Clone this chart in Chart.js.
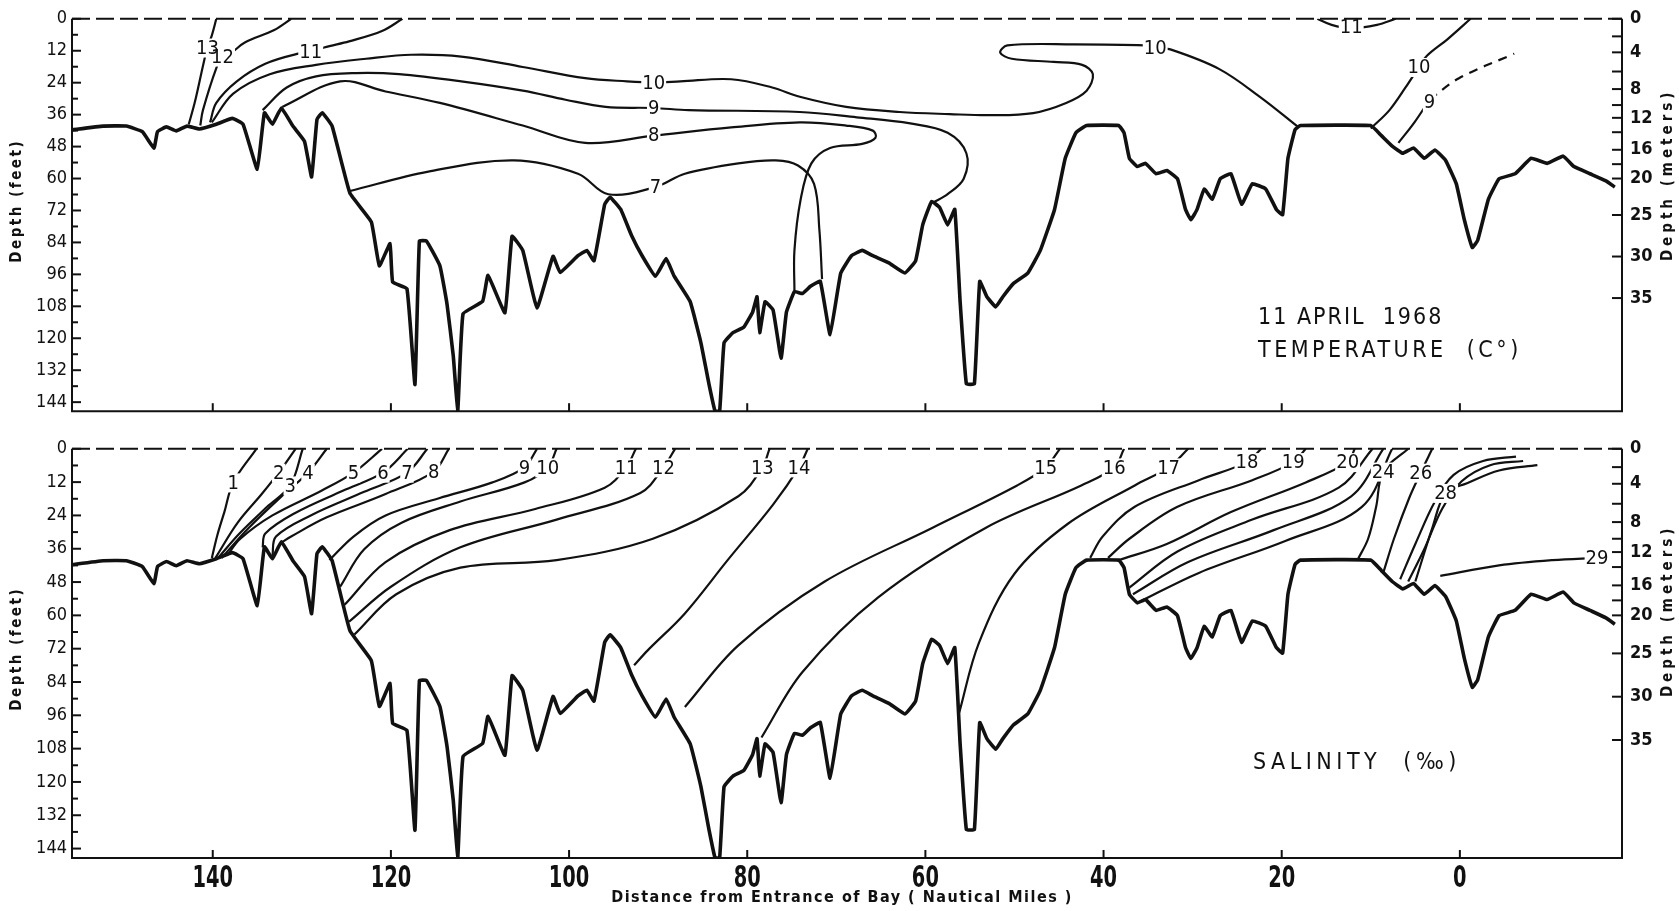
<!DOCTYPE html>
<html>
<head>
<meta charset="utf-8">
<script src="https://cdn.jsdelivr.net/npm/chart.js@4.4.0/dist/chart.umd.min.js"></script>
<style>
  body { margin: 0; background: #fff; }
  #page { position: relative; width: 1679px; height: 911px; }
  canvas { position: absolute; left: 0; }
</style>
</head>
<body>
<div id="page">
  <canvas id="tempChart" width="1679" height="430" style="top:0"></canvas>
  <canvas id="saltChart" width="1679" height="481" style="top:430px"></canvas>
</div>
<script>
// axes
const distTicks = [140, 120, 100, 80, 60, 40, 20, 0];
const feetTicks = [0, 6, 12, 18, 24, 30, 36, 42, 48, 54, 60, 66, 72, 78, 84, 90, 96, 102, 108, 114, 120, 126, 132, 138, 144];
const feetLabels = [0, 12, 24, 36, 48, 60, 72, 84, 96, 108, 120, 132, 144];
// right hand scale: meters, placed where the original drawing puts them (in feet)
const meterTickFeet = [0, 6.6, 12.6, 19.8, 26.4, 32.4, 37.2, 42.6, 49.2, 54.6, 60, 73.7, 89.3, 104.9];
const meterTickText = ['0', '', '4', '', '8', '', '12', '', '16', '', '20', '25', '30', '35'];

// bottom profile [nautical miles, feet]
const bottomProfile = [
  [155.8,41.7],[152.3,40.3],[149.7,40.3],[147.9,42.4],[146.6,48.6],[146.2,42.4],[145.2,40.6],[144.1,42.1],
  [142.9,40.3],[141.5,41.4],[139.6,39.6],[137.8,37.4],[136.6,39.6],[135,56.5],[134.2,35.3],[133.3,39.6],
  [132.3,33.5],[131,40.3],[129.7,46],[128.9,59.4],[128.3,37.8],[127.7,35.3],[126.6,40.3],[124.6,65.5],
  [122.2,76.3],[121.3,92.8],[120.1,84.5],[119.8,98.9],[118.2,101.4],[117.3,137.4],[116.8,83.5],[116,83.5],
  [114.5,92.8],[113.7,107.2],[113,126.6],[112.5,147.5],[111.9,110.8],[109.7,106.1],[109.1,96.4],[107.2,110.4],
  [106.4,81.7],[105.2,87],[103.6,108.6],[101.8,89.2],[101,95.3],[99,89],[98,87],[97.2,90.9],[96,69.7],
  [95.4,67],[94.2,71.6],[93,81.3],[91.8,89],[90.3,96.7],[89.1,90.1],[88.2,96.7],[86.4,106.3],[85.2,121.7],
  [84.3,137.1],[83.6,147.5],[83.1,147.5],[82.6,121.7],[81.6,117.9],[80.4,115.9],[79.4,110.2],[78.9,104.4],
  [78.6,117.9],[78,106.3],[77.1,109.4],[76.2,127.5],[75.6,110.2],[74.7,102.5],[73.8,103.2],[72.9,100.5],
  [71.8,98.6],[70.7,118.6],[69.5,95.5],[68.3,89],[67.1,87],[65.9,89],[64.1,91.7],[62.3,95.5],[61.1,90.9],
  [60.3,77.4],[59.3,68.6],[58.4,70.9],[57.5,77.4],[56.7,71.6],[56.1,106.3],[55.4,137.1],[54.5,137.1],
  [53.9,98.6],[53.1,104.4],[52.1,108.2],[51.3,104.4],[50.1,99.4],[48.5,95.5],[47.1,87],[45.5,71.6],
  [44.3,52.4],[43.1,42.8],[41.9,40.1],[38.3,40.1],[37.7,42.8],[37.1,52.4],[36.2,55.5],[35.3,54.3],
  [34.1,58.2],[32.9,57],[31.7,60.1],[30.8,71.6],[30.2,75.5],[29.5,71.6],[28.7,63.9],[27.8,67.8],
  [26.9,60.1],[25.7,58.2],[24.5,69.7],[23.3,62],[21.8,63.9],[20.6,71.6],[19.9,73.6],[19.3,52.4],
  [18.5,41.6],[17.9,40.1],[10,40.1],[8.8,43.9],[7.6,47.8],[6.4,50.5],[5.2,48.5],[4,52.4],[2.8,49.3],
  [1.6,53.2],[0.4,62],[-0.5,75.5],[-1.4,85.9],[-2,83.2],[-3.2,67.8],[-4.4,60.1],[-6.2,58.2],[-8,52.4],
  [-9.8,54.3],[-11.6,51.6],[-12.8,55.5],[-14.6,58.2],[-16.4,60.9],[-17.4,63.2]
];

// isotherms, 11 April 1968 [nautical miles, feet]
const iso13 = [[139.6,0],[140.1,6.2],[140.6,10.8],[141.1,17.7],[142,31.2],[142.7,39.7]];
const iso12 = [[131.2,0],[133.1,4.2],[136.4,8.9],[137.9,12.7],[138.9,14.2],[139.6,18.5],[141.1,34.3],[141.4,40.1]];
const iso11 = [[118.7,0],[121,4.6],[124.7,8.5],[127.5,10.8],[129,12.7],[130.4,13.1],[134.1,16.9],[137.3,23.5],[139.6,31.6],[140.3,38.9]];
const iso10 = [[140.1,38.9],[137.7,28.1],[133.6,20.8],[128.4,17.3],[122.8,15],[117.7,13.5],[112.1,14.2],[105.2,18.1],
  [98.2,22.3],[93.5,23.5],[90.5,23.9],[87.5,23.5],[81.8,22.7],[77.2,25.8],[74.1,29.3],[68.9,33.1],[62.9,35],
  [57.3,35.8],[52.7,36.2],[47.9,35.4],[44.2,31.6],[41.9,27],[41.2,20.8],[42.4,17.3],[45.6,16.2],[50.3,15],
  [51.6,12.7],[50.8,10],[43.3,9.6],[35.4,10],[34.2,10.8],[32.5,11.5],[27,18.9],[22.3,29.7],[18.1,40.8]];
const iso10east = [[10,41.2],[7.9,34.3],[6.1,25.8],[4.6,18.1],[3.7,13.9],[1.4,7.7],[-1.2,0]];
const iso11east = [[16,0],[14.4,2.3],[12.3,3.5],[9.3,2.3],[7.2,0]];
const iso9 = [[134.4,34.3],[131.7,25.8],[128.4,21.6],[123.9,20.4],[119.1,20.8],[112.1,23.5],[105.2,27],[100.4,30.4],
  [95.9,33.1],[90.5,33.5],[86.6,34.3],[74.1,35],[67.7,37],[61.7,39.3],[57.5,42.8],[55.4,50.5],[55.7,60.1],
  [57.5,65.9],[59.1,69]];
const iso9east = [[6.9,46.6],[5.1,38.9],[3.4,30.4]];
const iso9eastDashed = [[3.4,30.4],[0.1,22.3],[-6.1,13.1]];
const iso8 = [[132.2,33.1],[125.7,23.5],[120.6,27.3],[114.5,31.6],[105.2,40.1],[98.2,46.6],[90.5,43.9],[81.8,40.8],
  [74.1,38.9],[68.9,40.1],[65.9,42],[65.6,44.7],[67.1,47],[70.7,48.5],[72.8,54.3],[74,67.8],[74.7,87],[74.7,102.5]];
const iso7 = [[124.6,64.7],[115.8,57.4],[106.2,53.2],[99,58.2],[95.6,65.9],[90.3,63.2],[87,58.2],[81,54.3],
  [76.8,53.2],[74.3,55.1],[72.5,62],[71.9,79.3],[71.6,97.8]];

const tempSolid = [iso13, iso12, iso11, iso10, iso10east, iso11east, iso9, iso9east, iso8, iso7];
const tempDashed = [iso9eastDashed];
const tempLabelText = ['13', '12', '11', '10', '9', '8', '7', '10', '11', '10', '9'];
const tempLabelAt = [[140.6,10.8],[138.9,14.2],[129,12.3],[90.5,23.9],[90.5,33.5],[90.5,43.7],[90.3,63.2],
  [34.2,10.8],[12.2,3.1],[4.6,18.1],[3.4,31.2]];

// isohalines (per mille) [nautical miles, feet]
const sal1 = [[135.1,0],[137.7,12.1],[138.7,22.8],[139.5,31.3],[140.1,39.3]];
const sal2 = [[130.7,0],[132.6,8.6],[134.5,16.3],[137.2,26.6],[139.7,39.3]];
const sal3 = [[129.9,0],[131.3,13.2],[133.9,20.9],[137,30.5],[139.4,39.3]];
const sal4 = [[127.2,0],[129.3,8.6],[132,16.3],[136,28.6],[139,39.3]];
const sal5 = [[121,0],[124.2,8.6],[127.8,15.1],[133.3,24],[136.9,32.4],[138.4,38.5]];
const sal6 = [[118.1,0],[120.9,8.6],[125.4,15.1],[130.8,23.2],[134.1,30.5],[134.4,35.5]];
const sal7 = [[115.9,0],[118.2,8.6],[123,15.5],[129,24],[132.9,31.6],[133.3,38.5]];
const sal8 = [[113.5,0],[115.2,8.2],[120.6,16.3],[127.2,24.7],[131.2,31.6],[132.4,34]];
const sal9 = [[103.6,0],[105,6.7],[108.6,12.1],[114.6,17.8],[120.6,24],[124.2,31.6],[126.9,40.1]];
const sal10 = [[101.4,0],[102.4,6.7],[105,12.1],[112.2,19],[118.8,26.6],[123,36.2],[125.7,49.7]];
const sal11 = [[92.5,0],[93.6,6.7],[96,14],[103.8,21.7],[113.4,29.3],[120.6,40.8],[125.2,56.2]];
const sal12 = [[88.1,0],[89.4,6.7],[92,15.9],[101.4,25.5],[112.2,35.5],[120,49.7],[124.7,62.3]];
const sal13 = [[77.5,0],[78.3,6.7],[81,17.1],[90.6,32.4],[101.4,40.1],[112.2,42.8],[119.4,52.4],[124.1,66.9]];
const sal14 = [[73.2,0],[74.2,6.7],[77.1,20.1],[82.2,40.1],[87,59.3],[91.2,72.7],[92.7,78]];
const sal15 = [[44.9,0],[46.5,6.7],[49.7,13.2],[59.3,28.6],[71.3,47.8],[81,70.8],[87,93]];
const sal16 = [[37.7,0],[38.8,6.7],[42.5,13.2],[53.3,28.6],[65.3,53.5],[73.8,80.4],[78.4,104]];
const sal17 = [[30.5,0],[32.7,6.7],[36.5,13.2],[44,27],[50,45],[54,70],[56.2,95]];
const sal18 = [[22.3,0],[23.9,4.8],[29.3,11.3],[36.5,20.9],[40.1,31.6],[41.5,39.3]];
const sal19 = [[17.3,0],[18.7,4.8],[23.3,11.3],[31.7,20.9],[37.1,32.4],[39.5,39.3]];
const sal20 = [[11.8,0],[12.6,4.8],[17.3,12.1],[25.7,22.8],[32.9,34.3],[38.3,40.1]];
const sal21 = [[9.8,0],[13.6,14],[23.3,25.5],[31.7,37],[37.1,50]];
const sal22 = [[8.6,0],[12.2,17.1],[20.9,29.3],[30.5,40.8],[36.7,52.4]];
const sal23 = [[7.6,0],[11,20.9],[19.6,33.2],[29.3,44.7],[36.2,55.5]];
const sal24 = [[5.8,0],[8.6,8.2],[9.4,20.9],[10.3,32.4],[11.5,40.1]];
const sal26 = [[3.1,0],[4.4,8.6],[5.7,17.8],[7.4,32.4],[8.6,44.7]];
const sal27 = [[-6.3,2.8],[-2.6,4.4],[0.7,9.4],[2.8,19],[5,34.3],[6.7,47]];
const sal27b = [[-7.1,4.4],[-3.4,5.9],[-0.2,11.7],[2,21.7],[4,36.2],[5.8,47.8]];
const sal28 = [[-8.7,5.9],[-4.4,7.8],[-0.8,12.4],[1.6,15.9],[3.1,28.6],[5,47.8]];
const sal29 = [[2.2,45.8],[-4.4,42],[-10.4,40.1],[-15.4,39.3]];

const saltSolid = [sal1, sal2, sal3, sal4, sal5, sal6, sal7, sal8, sal9, sal10, sal11, sal12, sal13, sal14,
  sal15, sal16, sal17, sal18, sal19, sal20, sal21, sal22, sal23, sal24, sal26, sal27, sal27b, sal28, sal29];
const saltLabelText = ['1','2','3','4','5','6','7','8','9','10','11','12','13','14','15','16','17','18','19','20','24','26','28','29'];
const saltLabelAt = [[137.7,12.1],[132.6,8.6],[131.3,13.2],[129.3,8.6],[124.2,8.6],[120.9,8.6],[118.2,8.6],[115.2,8.2],
  [105,6.7],[102.4,6.7],[93.6,6.7],[89.4,6.7],[78.3,6.7],[74.2,6.7],[46.5,6.7],[38.8,6.7],[32.7,6.7],
  [23.9,4.8],[18.7,4.8],[12.6,4.8],[8.6,8.2],[4.4,8.6],[1.6,15.9],[-15.4,39.3]];

const xMin = -18.2, xMax = 155.8, yMax = 147.4;
const ink = '#111';
const mono = "'DejaVu Sans Condensed', 'DejaVu Sans', sans-serif";

function line(points, width, dash) {
  return {
    data: points.map(([x, y]) => ({ x, y })),
    showLine: true, pointRadius: 0, borderColor: ink, borderWidth: width,
    borderDash: dash || [], tension: 0.35, fill: false
  };
}

function profileLine() {
  const d = line(bottomProfile, 3.6);
  d.tension = 0.1;
  return d;
}

function upright(ctx, text, x, y, font, spacing) {
  ctx.save();
  ctx.translate(x, y);
  ctx.rotate(-Math.PI / 2);
  ctx.font = font;
  ctx.letterSpacing = spacing;
  ctx.textAlign = 'center';
  ctx.textBaseline = 'middle';
  ctx.fillText(text, 0, 0);
  ctx.restore();
}

// frame, inward ticks, contour labels and free text
const paperFrame = {
  id: 'paperFrame',
  afterDatasetsDraw(chart, args, opts) {
    const { ctx, chartArea: a, scales } = chart;
    ctx.save();
    ctx.font = `20px ${mono}`;
    ctx.textAlign = 'center';
    ctx.textBaseline = 'middle';
    const spots = opts.labelText.map((t, i) => ({
      t, px: scales.x.getPixelForValue(opts.labelAt[i][0]), py: scales.y.getPixelForValue(opts.labelAt[i][1])
    }));
    // white gaps first, then all numbers, so close labels do not hide each other
    ctx.fillStyle = '#fff';
    spots.forEach(s => {
      const w = ctx.measureText(s.t).width + 2;
      ctx.fillRect(s.px - w / 2, s.py - 9, w, 19);
    });
    ctx.fillStyle = ink;
    spots.forEach(s => ctx.fillText(s.t, s.px, s.py + 1));

    ctx.strokeStyle = ink;
    ctx.lineWidth = 2;
    ctx.beginPath();
    ctx.moveTo(a.left, a.top); ctx.lineTo(a.left, a.bottom);
    ctx.lineTo(a.right, a.bottom); ctx.lineTo(a.right, a.top);
    ctx.stroke();
    ctx.setLineDash([18, 6]);
    ctx.beginPath(); ctx.moveTo(a.left, a.top); ctx.lineTo(a.right, a.top); ctx.stroke();
    ctx.setLineDash([]);

    scales.y.ticks.forEach(t => {
      const y = scales.y.getPixelForValue(t.value);
      ctx.beginPath(); ctx.moveTo(a.left, y); ctx.lineTo(a.left + (t.label !== '' ? 9 : 6), y); ctx.stroke();
    });
    scales.y2.ticks.forEach(t => {
      const y = scales.y2.getPixelForValue(t.value);
      ctx.beginPath(); ctx.moveTo(a.right, y); ctx.lineTo(a.right - 10, y); ctx.stroke();
    });
    distTicks.forEach(v => {
      const x = scales.x.getPixelForValue(v);
      ctx.beginPath(); ctx.moveTo(x, a.bottom); ctx.lineTo(x, a.bottom - 8); ctx.stroke();
    });

    ctx.fillStyle = ink;
    upright(ctx, 'Depth (feet)', 17, a.top + opts.leftTitleAt, `bold 15px ${mono}`, '2.5px');
    upright(ctx, 'Depth (meters)', 1668, a.top + opts.rightTitleAt, `bold 15px ${mono}`, '4px');

    if (opts.distLabels) {
      // tall condensed lettering of the original
      ctx.font = `bold 30px ${mono}`;
      ctx.textAlign = 'center';
      ctx.textBaseline = 'alphabetic';
      distTicks.forEach(v => {
        const x = scales.x.getPixelForValue(v);
        ctx.save();
        ctx.translate(x, a.bottom + 29);
        ctx.scale(0.72, 1);
        ctx.fillText(String(v), 0, 0);
        ctx.restore();
      });
      ctx.font = `bold 16px ${mono}`;
      ctx.letterSpacing = '1.5px';
      ctx.fillText('Distance from Entrance of Bay ( Nautical Miles )', 842, a.bottom + 44);
      ctx.letterSpacing = '0px';
    }

    ctx.textAlign = 'left';
    ctx.textBaseline = 'middle';
    opts.notes.forEach(n => {
      ctx.font = `23px ${mono}`;
      ctx.letterSpacing = n.spacing;
      ctx.fillText(n.text, n.left, n.top);
    });
    ctx.restore();
  }
};

function makeScales(withDistance) {
  return {
    x: {
      type: 'linear', reverse: true, min: xMin, max: xMax, display: withDistance,
      afterBuildTicks: s => { s.ticks = distTicks.map(v => ({ value: v })); },
      afterFit: s => { s.height = withDistance ? 53 : 0; },
      grid: { display: false, drawTicks: false }, border: { display: false },
      ticks: { display: false }
    },
    y: {
      type: 'linear', reverse: true, min: 0, max: yMax, position: 'left',
      afterBuildTicks: s => { s.ticks = feetTicks.map(v => ({ value: v })); },
      afterFit: s => { s.width = 72; },
      grid: { display: false, drawTicks: false }, border: { display: false },
      ticks: { autoSkip: false, padding: 5, color: ink, font: { family: mono, size: 18 },
        callback: v => feetLabels.includes(v) ? String(v) : '' }
    },
    y2: {
      type: 'linear', reverse: true, min: 0, max: yMax, position: 'right',
      afterBuildTicks: s => { s.ticks = meterTickFeet.map(v => ({ value: v })); },
      afterFit: s => { s.width = 57; },
      grid: { display: false, drawTicks: false }, border: { display: false },
      ticks: { autoSkip: false, padding: 8, color: ink, font: { family: mono, size: 18, weight: 'bold' },
        callback: (v, i) => meterTickText[i] }
    }
  };
}

function makePanel(id, lines, dashed, labelText, labelAt, notes, withDistance, padBottom, titles) {
  const datasets = [profileLine()]
    .concat(lines.map(p => line(p, 2.2)))
    .concat(dashed.map(p => line(p, 2.2, [9, 7])));
  return new Chart(document.getElementById(id), {
    type: 'scatter',
    data: { datasets },
    options: {
      responsive: false, animation: false,
      layout: { padding: { top: 15, bottom: padBottom, left: 0, right: 0 } },
      plugins: { legend: { display: false }, tooltip: { enabled: false },
        paperFrame: { labelText, labelAt, notes, distLabels: withDistance,
          leftTitleAt: titles[0], rightTitleAt: titles[1] } },
      scales: makeScales(withDistance)
    },
    plugins: [paperFrame]
  });
}

makePanel('tempChart', tempSolid, tempDashed, tempLabelText, tempLabelAt,
  [{ text: '11 APRIL  1968', left: 1258, top: 318, spacing: '2px' },
   { text: 'TEMPERATURE  (C°)', left: 1258, top: 351, spacing: '3.5px' }], false, 6, [182, 156]);
makePanel('saltChart', saltSolid, [], saltLabelText, saltLabelAt,
  [{ text: 'SALINITY  (‰)', left: 1253, top: 333, spacing: '4.5px' }], true, 0, [200, 162]);
</script>
</body>
</html>
